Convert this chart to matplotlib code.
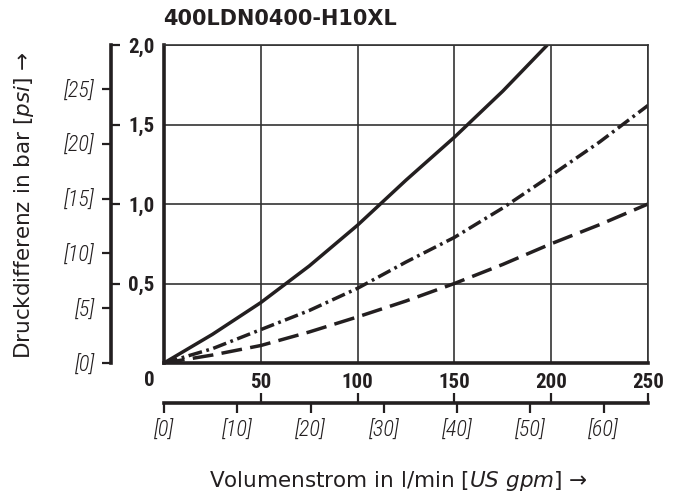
import matplotlib.pyplot as plt
from matplotlib.ticker import FixedLocator, NullFormatter

BAR_TO_PSI = 14.5038
GPM_TO_LMIN = 3.78541

title = "400LDN0400-H10XL"

# curves: flow in l/min, pressure drop in bar
flow_solid = [0, 25, 50, 75, 100, 125, 150, 175, 198]
dp_solid = [0, 0.18, 0.38, 0.61, 0.867, 1.15, 1.42, 1.71, 2.0]

flow_dashdot = [0, 25, 50, 75, 100, 125, 150, 175, 200, 225, 250]
dp_dashdot = [0, 0.09, 0.21, 0.33, 0.47, 0.635, 0.79, 0.975, 1.18, 1.39, 1.62]

flow_dashed = [0, 25, 50, 75, 100, 125, 150, 175, 200, 225, 250]
dp_dashed = [0, 0.05, 0.11, 0.195, 0.29, 0.39, 0.50, 0.62, 0.75, 0.87, 1.0]

lmin_ticks = [50, 100, 150, 200, 250]
bar_ticks = [0.5, 1.0, 1.5, 2.0]
bar_labels = ["0,5", "1,0", "1,5", "2,0"]
gpm_ticks = [0, 10, 20, 30, 40, 50, 60]
psi_ticks = [0, 5, 10, 15, 20, 25]

narrow = ["Roboto Condensed", "DejaVu Sans"]
ink = "#231f20"
W, H = 681, 499

fig = plt.figure(figsize=(W / 100, H / 100), dpi=100)
ax = fig.add_axes([164 / W, 1 - 363 / H, (648 - 164) / W, (363 - 45) / H])

ax.plot(flow_solid, dp_solid, color=ink, lw=2.5, solid_capstyle="butt")
ax.plot(flow_dashdot, dp_dashdot, color=ink, lw=2.5,
        dashes=(4, 1.3, 0.8, 1.3), dash_capstyle="butt")
ax.plot(flow_dashed, dp_dashed, color=ink, lw=2.5,
        dashes=(6, 2.4), dash_capstyle="butt")

ax.set_xlim(0, 250)
ax.set_ylim(0, 2.0)
ax.xaxis.set_major_locator(FixedLocator(lmin_ticks))
ax.yaxis.set_major_locator(FixedLocator(bar_ticks))
ax.set_yticklabels(bar_labels)
ax.grid(True, color="#333333", linewidth=1.2)
ax.tick_params(length=0, labelsize=15, pad=7, colors=ink)
for lab in ax.get_xticklabels() + ax.get_yticklabels():
    lab.set_family(narrow)
    lab.set_fontweight("bold")

for side in ["left", "bottom"]:
    ax.spines[side].set_linewidth(2.6)
    ax.spines[side].set_color(ink)
for side in ["top", "right"]:
    ax.spines[side].set_linewidth(1.2)
    ax.spines[side].set_color("#333333")

# shared origin label
fig.text(149 / W, 1 - 380 / H, "0", ha="center", va="center", fontsize=15,
         fontweight="bold", family=narrow, color=ink)

# psi axis on the left
psi = ax.secondary_yaxis(-53 / 484, functions=(lambda b: b * BAR_TO_PSI,
                                               lambda p: p / BAR_TO_PSI))
psi.spines["left"].set_linewidth(2.6)
psi.spines["left"].set_color(ink)
psi.yaxis.set_major_locator(FixedLocator(psi_ticks))
psi.yaxis.set_minor_locator(FixedLocator([b * BAR_TO_PSI for b in bar_ticks]))
psi.yaxis.set_minor_formatter(NullFormatter())
psi.set_yticklabels(["[%d]" % p for p in psi_ticks])
psi.tick_params(which="major", direction="out", length=6.5, width=1.6,
                pad=5, labelsize=16, colors=ink)
psi.tick_params(which="minor", direction="in", length=6.5, width=1.6, colors=ink)
for lab in psi.get_yticklabels():
    lab.set_family(narrow)
    lab.set_style("italic")
    lab.set_fontweight("light")

# gpm axis below
gpm = ax.secondary_xaxis(-40 / 318, functions=(lambda q: q / GPM_TO_LMIN,
                                               lambda g: g * GPM_TO_LMIN))
gpm.spines["bottom"].set_linewidth(2.6)
gpm.spines["bottom"].set_color(ink)
gpm.xaxis.set_major_locator(FixedLocator(gpm_ticks))
gpm.xaxis.set_minor_locator(FixedLocator([0] + [q / GPM_TO_LMIN for q in lmin_ticks]))
gpm.xaxis.set_minor_formatter(NullFormatter())
gpm.set_xticklabels(["[%d]" % g for g in gpm_ticks])
gpm.tick_params(which="major", direction="out", length=7, width=1.6,
                pad=5, labelsize=16, colors=ink)
gpm.tick_params(which="minor", direction="in", length=7, width=1.6, colors=ink)
for lab in gpm.get_xticklabels():
    lab.set_family(narrow)
    lab.set_style("italic")
    lab.set_fontweight("light")

fig.text(163 / W, 1 - 19 / H, title, ha="left", va="center", fontsize=15,
         fontweight="bold", color=ink)
fig.text(398 / W, 1 - 481 / H, "Volumenstrom in l/min $\\mathit{[US\\ gpm]}$ →",
         ha="center", va="center", fontsize=15.5, color=ink)
fig.text(24 / W, 1 - 205 / H, "Druckdifferenz in bar $\\mathit{[psi]}$ →",
         ha="center", va="center", rotation=90, fontsize=15.5, color=ink)

fig.savefig("out.png", dpi=100)
